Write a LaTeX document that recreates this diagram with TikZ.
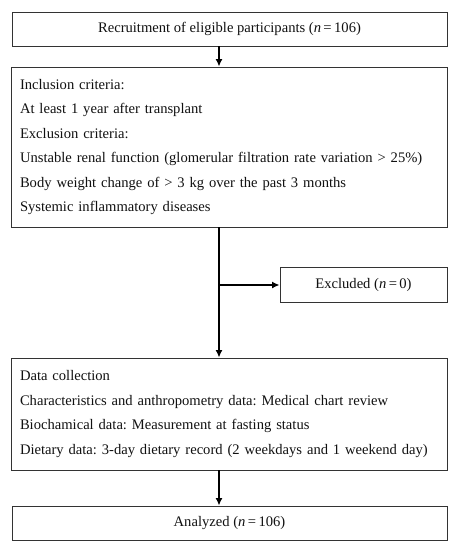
\documentclass[tikz,border=0pt]{standalone}
\usepackage{fontspec}
\setmainfont{Liberation Serif}
\usetikzlibrary{arrows.meta}
\definecolor{linec}{HTML}{333333}
\definecolor{textc}{HTML}{111111}
\tikzset{
  box/.style={draw=linec, line width=0.9pt, rectangle, inner sep=0pt, text=textc,
    font=\fontsize{14.6}{24.4}\selectfont\frenchspacing},
  listbox/.style={box, align=left, text width=418pt, minimum width=436pt},
  arr/.style={line width=1.5pt, draw=black, -{Latex[length=7.5pt,width=7pt]}}
}
\begin{document}
\begin{tikzpicture}[x=1pt,y=-1pt]
\useasboundingbox (0,0) rectangle (458,550);
\fill[white] (0,0) rectangle (458,550);
\node[box, minimum width=435pt, minimum height=34pt] (rec) at (229.5,29)
  {Recruitment of eligible participants (\textit{n}\,=\,106)};
\node[listbox, minimum height=160pt] (incl) at (229,147)
  {Inclusion criteria:\\
   At least 1 year after transplant\\
   Exclusion criteria:\\
   Unstable renal function (glomerular filtration rate variation > 25\%)\\
   Body weight change of > 3 kg over the past 3 months\\
   Systemic inflammatory diseases};
\node[box, minimum width=167pt, minimum height=35pt] (excl) at (363.5,285)
  {Excluded (\textit{n}\,=\,0)};
\node[listbox, minimum height=112pt] (data) at (229,414)
  {Data collection\\
   Characteristics and anthropometry data: Medical chart review\\
   Biochamical data: Measurement at fasting status\\
   Dietary data: 3-day dietary record (2 weekdays and 1 weekend day)};
\node[box, minimum width=435pt, minimum height=34pt] (ana) at (229.5,523)
  {Analyzed (\textit{n}\,=\,106)};
\coordinate (ax) at (219,0);
\coordinate (br) at (219,285);
\draw[arr] (rec.south -| ax) -- (incl.north -| ax);
\draw[arr] (incl.south -| ax) -- (data.north -| ax);
\draw[arr] (br) -- (excl.west);
\draw[arr] (data.south -| ax) -- (ana.north -| ax);
\end{tikzpicture}
\end{document}
